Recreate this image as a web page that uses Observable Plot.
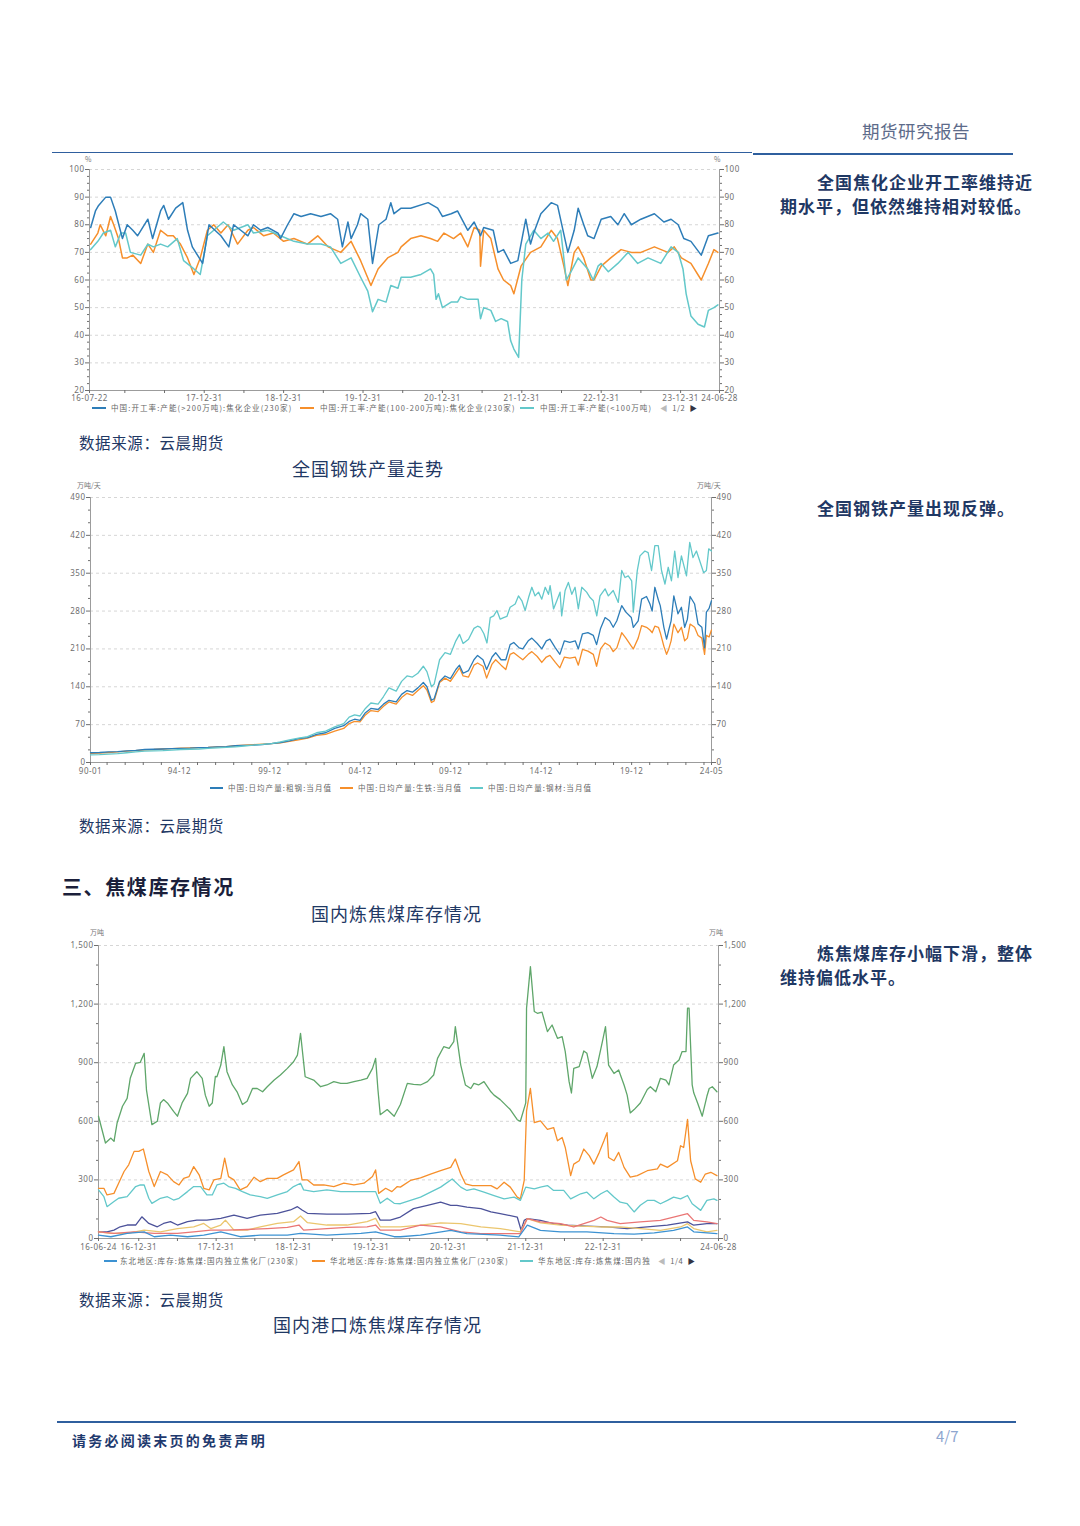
<!DOCTYPE html>
<html><head><meta charset="utf-8">
<script src="https://cdn.jsdelivr.net/npm/d3@7"></script>
<script src="https://cdn.jsdelivr.net/npm/@observablehq/plot@0.6"></script>
<style>
body{margin:0;background:#fff;}
#page{position:relative;width:1080px;height:1526px;overflow:hidden;font-family:"Noto Sans CJK SC","Noto Sans",sans-serif;}
.abs{position:absolute;white-space:nowrap;line-height:1;}
.side{font-size:17px;letter-spacing:1px;color:#1f3864;font-weight:700;}
.src{font-size:15.5px;letter-spacing:0.6px;color:#1f3864;}
.ttl{font-size:18px;letter-spacing:1px;color:#1f3864;}
.unit{font-size:7px;color:#777;}
.lg{font-size:7.5px;color:#666;letter-spacing:1.1px;}
.sw{position:absolute;height:1.6px;}
.chart{position:absolute;}
</style></head>
<body><div id="page">
<div class="abs" style="left:862px;top:122px;font-size:17.5px;color:#5d6b8a;letter-spacing:0.5px;">期货研究报告</div>
<div style="position:absolute;left:52px;top:152px;width:700px;height:1.4px;background:#2f5f9e"></div>
<div style="position:absolute;left:753px;top:153px;width:260px;height:2px;background:#2f5f9e"></div>

<div class="abs side" style="left:817px;top:173px;">全国焦化企业开工率维持近</div>
<div class="abs side" style="left:780px;top:197px;">期水平，但依然维持相对较低。</div>
<div class="abs side" style="left:817px;top:499px;">全国钢铁产量出现反弹。</div>
<div class="abs side" style="left:817px;top:944px;">炼焦煤库存小幅下滑，整体</div>
<div class="abs side" style="left:780px;top:968px;">维持偏低水平。</div>

<div class="abs unit" style="left:85px;top:156px;">%</div>
<div class="abs unit" style="left:714px;top:156px;">%</div>
<div class="abs unit" style="left:77px;top:482px;">万吨/天</div>
<div class="abs unit" style="left:697px;top:482px;">万吨/天</div>
<div class="abs unit" style="left:90px;top:929px;">万吨</div>
<div class="abs unit" style="left:709px;top:929px;">万吨</div>

<div id="c1" class="chart" style="left:50px;top:150px;"></div>
<div id="c2" class="chart" style="left:50px;top:480px;"></div>
<div id="c3" class="chart" style="left:50px;top:925px;"></div>

<div id="lg1"></div><div id="lg2"></div><div id="lg3"></div>

<div class="abs src" style="left:79px;top:435px;">数据来源：云晨期货</div>
<div class="abs ttl" style="left:292px;top:459px;">全国钢铁产量走势</div>
<div class="abs src" style="left:79px;top:818px;">数据来源：云晨期货</div>
<div class="abs" style="left:62px;top:877px;font-size:20px;letter-spacing:1.6px;color:#1b1f3b;font-weight:600;">三、焦煤库存情况</div>
<div class="abs ttl" style="left:311px;top:904px;">国内炼焦煤库存情况</div>
<div class="abs src" style="left:79px;top:1292px;">数据来源：云晨期货</div>
<div class="abs ttl" style="left:273px;top:1315px;">国内港口炼焦煤库存情况</div>

<div style="position:absolute;left:57px;top:1421px;width:959px;height:1.5px;background:#2f5f9e"></div>
<div class="abs" style="left:72px;top:1433px;font-size:14px;font-weight:700;letter-spacing:2.25px;color:#1f3a6e;">请务必阅读末页的免责声明</div>
<div class="abs" style="left:936px;top:1428px;font-size:15px;color:#8ea6cf;">4/7</div>
</div>
<script>
// ---------- Chart 1: coking plant operating rates (%) ----------
const rateLabels = ["中国:开工率:产能(>200万吨):焦化企业(230家)","中国:开工率:产能(100-200万吨):焦化企业(230家)","中国:开工率:产能(<100万吨)"];
const rateXTicks = [2016.555,2018,2019,2020,2021,2022,2023,2024,2024.49];
const rateXLabels = ["16-07-22","17-12-31","18-12-31","19-12-31","20-12-31","21-12-31","22-12-31","23-12-31","24-06-28"];
const rateXMinor = [2017,2017.5,2018.5,2019.5,2020.5,2021.5,2022.5,2023.5];
const rateYTicks = [20,30,40,50,60,70,80,90,100];
const rateLarge = [[2016.57,79],[2016.63,85],[2016.67,87],[2016.76,90],[2016.82,90],[2016.88,85],[2016.97,75],[2017.03,80],[2017.10,78],[2017.16,76],[2017.29,82],[2017.35,75],[2017.45,85],[2017.49,87],[2017.55,82],[2017.64,86],[2017.73,88],[2017.79,78],[2017.85,72],[2017.98,66],[2018.06,80],[2018.21,76],[2018.31,72],[2018.37,80],[2018.46,78],[2018.55,76],[2018.62,80],[2018.71,78],[2018.80,79],[2018.93,77],[2018.96,75],[2019.05,80],[2019.13,84],[2019.22,83],[2019.34,84],[2019.47,83],[2019.59,84],[2019.68,82],[2019.74,72],[2019.81,81],[2019.85,75],[2019.93,80],[2019.97,84],[2020.06,82],[2020.12,66],[2020.20,80],[2020.29,82],[2020.35,88],[2020.39,84],[2020.48,86],[2020.60,86],[2020.82,88],[2020.94,86],[2021.00,83],[2021.11,84],[2021.19,85],[2021.32,78],[2021.40,81],[2021.48,76],[2021.52,79],[2021.64,78],[2021.70,70],[2021.77,71],[2021.86,66],[2021.95,67],[2022.05,82],[2022.11,73],[2022.15,77],[2022.24,84],[2022.37,88],[2022.45,87],[2022.58,70],[2022.66,78],[2022.71,86],[2022.78,80],[2022.83,76],[2022.91,75],[2023.00,82],[2023.12,83],[2023.21,80],[2023.29,84],[2023.38,80],[2023.50,82],[2023.67,84],[2023.79,81],[2023.88,82],[2023.97,80],[2024.04,75],[2024.13,74],[2024.26,69],[2024.35,76],[2024.47,77]];
const rateMid = [[2016.57,73],[2016.66,77],[2016.69,80],[2016.76,76],[2016.82,83],[2016.86,80],[2016.92,75],[2016.97,68],[2017.03,68],[2017.10,69],[2017.20,66],[2017.29,73],[2017.36,70],[2017.45,78],[2017.54,76],[2017.61,76],[2017.70,73],[2017.79,68],[2017.87,62],[2017.95,68],[2018.04,78],[2018.12,80],[2018.21,77],[2018.30,80],[2018.42,73],[2018.55,78],[2018.62,79],[2018.75,76],[2018.87,77],[2019.00,74],[2019.13,75],[2019.30,73],[2019.43,76],[2019.56,72],[2019.72,70],[2019.85,74],[2019.97,67],[2020.10,58],[2020.19,64],[2020.31,68],[2020.44,70],[2020.48,72],[2020.60,75],[2020.73,76],[2020.85,75],[2020.94,74],[2021.02,77],[2021.14,75],[2021.23,77],[2021.32,72],[2021.40,79],[2021.47,78],[2021.48,65],[2021.52,78],[2021.61,75],[2021.70,64],[2021.77,60],[2021.86,58],[2021.90,55],[2021.99,65],[2022.11,70],[2022.24,72],[2022.37,78],[2022.45,75],[2022.53,65],[2022.58,58],[2022.66,70],[2022.71,72],[2022.78,68],[2022.87,60],[2022.91,60],[2023.00,65],[2023.12,68],[2023.25,71],[2023.38,70],[2023.50,70],[2023.67,72],[2023.84,70],[2023.92,72],[2024.01,68],[2024.13,66],[2024.26,60],[2024.35,66],[2024.42,71],[2024.47,70]];
const rateSmall = [[2016.57,71],[2016.66,74],[2016.73,77],[2016.82,78],[2016.88,72],[2016.95,77],[2017.01,77],[2017.07,70],[2017.20,69],[2017.29,73],[2017.36,72],[2017.45,73],[2017.54,72],[2017.66,75],[2017.74,67],[2017.87,64],[2017.95,62],[2018.04,76],[2018.12,78],[2018.24,81],[2018.37,78],[2018.55,80],[2018.62,77],[2018.80,78],[2018.96,76],[2019.13,74],[2019.30,73],[2019.47,73],[2019.59,72],[2019.72,66],[2019.85,68],[2019.97,61],[2020.06,56],[2020.12,48.5],[2020.19,53],[2020.29,52],[2020.35,58],[2020.44,57],[2020.48,61],[2020.60,61],[2020.73,62],[2020.85,64],[2020.89,62],[2020.92,53],[2020.95,55],[2021.00,50],[2021.11,52],[2021.19,52],[2021.23,54],[2021.32,53],[2021.45,53],[2021.48,46],[2021.52,50],[2021.61,49],[2021.67,45],[2021.74,46],[2021.82,45],[2021.86,38],[2021.90,35],[2021.96,32],[2022.00,60],[2022.05,73],[2022.15,78],[2022.24,75],[2022.33,77],[2022.40,74],[2022.49,78],[2022.56,60],[2022.62,63],[2022.71,68],[2022.83,64],[2022.90,60],[2022.96,65],[2023.00,66],[2023.09,63],[2023.21,66],[2023.34,70],[2023.46,66],[2023.59,68],[2023.75,66],[2023.88,72],[2023.97,70],[2024.03,64],[2024.07,55],[2024.13,47],[2024.22,44],[2024.30,43],[2024.35,49],[2024.42,50],[2024.47,51]];

// ---------- Chart 2: daily output (万吨/天) ----------
const steelLabels = ["中国:日均产量:粗钢:当月值","中国:日均产量:生铁:当月值","中国:日均产量:钢材:当月值"];
const steelXTicks = [1990,1994.917,1999.917,2004.917,2009.917,2014.917,2019.917,2024.333];
const steelXLabels = ["90-01","94-12","99-12","04-12","09-12","14-12","19-12","24-05"];
const steelXMinor = [1990.917,1991.917,1992.917,1993.917,1995.917,1996.917,1997.917,1998.917,2000.917,2001.917,2002.917,2003.917,2005.917,2006.917,2007.917,2008.917,2010.917,2011.917,2012.917,2013.917,2015.917,2016.917,2017.917,2018.917,2020.917,2021.917,2022.917,2023.917];
const steelYTicks = [0,70,140,210,280,350,420,490];
const crudeSteel = [[1990.0,18],[1990.5,18.5],[1991.0,19.5],[1991.5,20],[1992.0,21.5],[1992.5,22.5],[1993.0,24],[1993.5,24.5],[1994.0,25],[1994.5,25.5],[1995.0,26],[1995.5,26.5],[1996.0,27.5],[1996.5,28],[1997.0,29],[1997.5,29.5],[1998.0,31],[1998.5,31.5],[1999.0,32],[1999.5,33],[2000.0,35],[2000.5,37],[2001.0,40],[2001.5,44],[2002.0,46],[2002.5,52],[2003.0,55],[2003.5,63],[2004.0,68],[2004.3,76],[2004.6,80],[2004.9,78],[2005.2,92],[2005.5,100],[2005.9,98],[2006.2,108],[2006.5,115],[2006.9,112],[2007.2,126],[2007.5,133],[2007.8,130],[2008.1,138],[2008.4,148],[2008.6,140],[2008.85,115],[2009.0,118],[2009.3,150],[2009.6,160],[2009.9,155],[2010.2,172],[2010.4,180],[2010.6,165],[2010.9,170],[2011.2,190],[2011.4,198],[2011.7,190],[2011.9,172],[2012.2,195],[2012.4,203],[2012.7,190],[2012.96,190],[2013.2,218],[2013.4,222],[2013.7,212],[2013.9,210],[2014.2,225],[2014.4,230],[2014.7,220],[2014.95,210],[2015.2,225],[2015.4,228],[2015.7,212],[2015.95,200],[2016.2,225],[2016.5,222],[2016.8,225],[2016.97,210],[2017.2,238],[2017.5,240],[2017.8,235],[2017.98,218],[2018.2,248],[2018.45,268],[2018.7,262],[2018.9,250],[2019.1,262],[2019.37,290],[2019.6,278],[2019.9,268],[2020.01,250],[2020.28,262],[2020.47,302],[2020.74,307],[2020.93,293],[2021.05,280],[2021.2,324],[2021.4,300],[2021.5,290],[2021.7,250],[2021.85,228],[2021.97,245],[2022.1,262],[2022.25,308],[2022.48,275],[2022.67,287],[2022.85,250],[2023.0,265],[2023.15,307],[2023.4,293],[2023.59,256],[2023.8,250],[2023.95,212],[2024.05,278],[2024.2,285],[2024.33,299]];
const pigIron = [[1990.0,17],[1990.5,17.5],[1991.0,18.5],[1991.5,19.5],[1992.0,21],[1992.5,22],[1993.0,23.5],[1993.5,24],[1994.0,25],[1994.5,25.5],[1995.0,26.5],[1995.5,27],[1996.0,27.5],[1996.5,28],[1997.0,29],[1997.5,29.5],[1998.0,31],[1998.5,32],[1999.0,33],[1999.5,34],[2000.0,35],[2000.5,36.5],[2001.0,39],[2001.5,42],[2002.0,45],[2002.5,50],[2003.0,52],[2003.5,58],[2004.0,63],[2004.3,72],[2004.6,76],[2004.9,75],[2005.2,88],[2005.5,96],[2005.9,94],[2006.2,104],[2006.5,112],[2006.9,108],[2007.2,120],[2007.5,128],[2007.8,124],[2008.1,133],[2008.4,142],[2008.6,134],[2008.85,111],[2009.0,114],[2009.3,148],[2009.6,156],[2009.9,150],[2010.2,165],[2010.4,175],[2010.6,160],[2010.9,158],[2011.2,180],[2011.4,184],[2011.7,178],[2011.9,156],[2012.2,182],[2012.4,190],[2012.7,180],[2012.96,172],[2013.2,200],[2013.4,203],[2013.7,195],[2013.9,190],[2014.2,200],[2014.4,205],[2014.7,196],[2014.95,185],[2015.2,195],[2015.4,198],[2015.7,185],[2015.95,175],[2016.2,195],[2016.5,193],[2016.8,195],[2016.97,180],[2017.2,209],[2017.5,206],[2017.8,200],[2017.98,178],[2018.2,210],[2018.45,221],[2018.7,216],[2018.9,205],[2019.1,212],[2019.37,240],[2019.6,230],[2019.9,215],[2020.01,210],[2020.28,230],[2020.47,253],[2020.74,250],[2020.93,245],[2021.05,240],[2021.2,252],[2021.4,250],[2021.5,240],[2021.7,215],[2021.85,200],[2021.97,210],[2022.1,225],[2022.25,256],[2022.48,240],[2022.67,250],[2022.85,225],[2023.0,230],[2023.15,256],[2023.4,250],[2023.59,235],[2023.8,230],[2023.95,200],[2024.05,235],[2024.2,232],[2024.33,245]];
const steelProducts = [[1990.0,14],[1990.5,14.5],[1991.0,15.5],[1991.5,16.5],[1992.0,18],[1992.5,19.5],[1993.0,21],[1993.5,21.5],[1994.0,22],[1994.5,23],[1995.0,24],[1995.5,24.5],[1996.0,25],[1996.5,26],[1997.0,27],[1997.5,28],[1998.0,29],[1998.5,30.5],[1999.0,32],[1999.5,33.5],[2000.0,35],[2000.5,38],[2001.0,42],[2001.5,45],[2002.0,48],[2002.5,55],[2003.0,58],[2003.5,66],[2004.0,72],[2004.3,84],[2004.6,88],[2004.9,86],[2005.2,100],[2005.5,110],[2005.9,108],[2006.2,122],[2006.5,138],[2006.9,132],[2007.2,150],[2007.5,160],[2007.8,158],[2008.1,165],[2008.4,178],[2008.6,168],[2008.85,140],[2009.0,145],[2009.3,190],[2009.6,203],[2009.9,200],[2010.2,225],[2010.4,237],[2010.6,220],[2010.9,228],[2011.2,248],[2011.4,252],[2011.55,250],[2011.75,238],[2011.92,221],[2012.1,268],[2012.29,271],[2012.47,281],[2012.65,265],[2012.84,268],[2013.02,270],[2013.2,287],[2013.48,293],[2013.66,308],[2013.85,299],[2014.03,281],[2014.22,305],[2014.4,324],[2014.58,308],[2014.77,315],[2014.95,302],[2015.14,324],[2015.32,311],[2015.41,327],[2015.6,284],[2015.78,299],[2015.96,315],[2016.05,271],[2016.24,318],[2016.42,333],[2016.61,311],[2016.79,324],[2016.97,284],[2017.16,324],[2017.43,315],[2017.62,305],[2017.8,299],[2017.99,271],[2018.17,308],[2018.45,321],[2018.63,308],[2018.9,318],[2019.18,296],[2019.37,355],[2019.55,342],[2019.73,345],[2019.92,336],[2020.01,278],[2020.23,355],[2020.38,382],[2020.65,391],[2020.83,388],[2021.02,355],[2021.2,401],[2021.39,401],[2021.57,355],[2021.76,330],[2021.94,361],[2022.12,336],[2022.3,391],[2022.48,342],[2022.67,382],[2022.95,345],[2023.13,407],[2023.31,379],[2023.5,391],[2023.68,373],[2023.9,351],[2024.05,355],[2024.18,395],[2024.33,391]];

// ---------- Chart 3: coking coal inventories (万吨) ----------
const invLabels = ["东北地区:库存:炼焦煤:国内独立焦化厂(230家)","华北地区:库存:炼焦煤:国内独立焦化厂(230家)","华东地区:库存:炼焦煤:国内独"];
const invXTicks = [2016.48,2017,2018,2019,2020,2021,2022,2023,2024.49];
const invXLabels = ["16-06-24","16-12-31","17-12-31","18-12-31","19-12-31","20-12-31","21-12-31","22-12-31","24-06-28"];
const invXMinor = [2017.5,2018.5,2019.5,2020.5,2021.5,2022.5,2023.5,2024];
const invYTicks = [0,300,600,900,1200,1500];
const invTotal = [[2016.48,626],[2016.57,489],[2016.64,514],[2016.68,497],[2016.72,591],[2016.79,677],[2016.85,717],[2016.89,820],[2016.96,897],[2017.02,902],[2017.07,948],[2017.10,760],[2017.17,583],[2017.24,600],[2017.28,694],[2017.32,711],[2017.37,694],[2017.45,651],[2017.50,626],[2017.56,694],[2017.63,743],[2017.67,820],[2017.75,854],[2017.82,820],[2017.86,734],[2017.91,677],[2017.95,694],[2017.97,763],[2017.99,830],[2018.01,828],[2018.06,888],[2018.10,982],[2018.14,854],[2018.21,786],[2018.27,751],[2018.34,686],[2018.40,703],[2018.47,768],[2018.53,768],[2018.60,751],[2018.66,777],[2018.75,811],[2018.83,837],[2018.92,871],[2019.00,905],[2019.05,939],[2019.09,1050],[2019.15,828],[2019.26,811],[2019.35,777],[2019.43,786],[2019.52,803],[2019.61,794],[2019.69,794],[2019.78,803],[2019.87,811],[2019.95,820],[2020.02,871],[2020.06,922],[2020.09,763],[2020.12,634],[2020.21,660],[2020.30,626],[2020.38,686],[2020.47,794],[2020.55,789],[2020.64,786],[2020.73,803],[2020.81,837],[2020.86,922],[2020.94,982],[2021.01,973],[2021.07,1008],[2021.09,1085],[2021.16,888],[2021.22,786],[2021.29,768],[2021.33,794],[2021.39,786],[2021.46,803],[2021.55,751],[2021.59,734],[2021.67,711],[2021.80,660],[2021.89,608],[2021.93,600],[2022.00,694],[2022.01,1179],[2022.06,1392],[2022.11,1162],[2022.15,1153],[2022.21,1159],[2022.28,1059],[2022.34,1093],[2022.41,1025],[2022.47,1033],[2022.51,957],[2022.56,803],[2022.59,745],[2022.62,871],[2022.69,880],[2022.75,960],[2022.79,948],[2022.86,820],[2022.92,880],[2022.99,1008],[2023.03,1085],[2023.07,888],[2023.14,845],[2023.20,863],[2023.27,786],[2023.31,734],[2023.35,643],[2023.40,660],[2023.48,694],[2023.57,763],[2023.61,777],[2023.68,751],[2023.74,820],[2023.81,811],[2023.85,786],[2023.91,888],[2023.98,914],[2024.02,957],[2024.07,957],[2024.09,1179],[2024.11,1179],[2024.15,786],[2024.17,746],[2024.22,694],[2024.28,626],[2024.34,728],[2024.37,768],[2024.41,777],[2024.47,751]];
const invNorth = [[2016.48,257],[2016.55,257],[2016.59,223],[2016.68,231],[2016.74,283],[2016.81,343],[2016.87,377],[2016.94,446],[2017.00,446],[2017.06,458],[2017.13,343],[2017.20,266],[2017.28,343],[2017.37,326],[2017.45,291],[2017.52,274],[2017.58,308],[2017.65,317],[2017.71,368],[2017.78,326],[2017.84,257],[2017.91,249],[2017.97,300],[2018.06,308],[2018.11,411],[2018.16,317],[2018.23,300],[2018.31,249],[2018.40,266],[2018.49,314],[2018.57,291],[2018.66,308],[2018.79,308],[2018.87,326],[2019.00,351],[2019.07,394],[2019.11,300],[2019.18,300],[2019.26,274],[2019.39,274],[2019.52,266],[2019.65,283],[2019.78,274],[2019.91,283],[2020.02,317],[2020.06,351],[2020.10,231],[2020.19,257],[2020.27,240],[2020.34,266],[2020.38,263],[2020.51,297],[2020.64,310],[2020.77,330],[2020.90,347],[2021.03,364],[2021.09,407],[2021.16,330],[2021.22,280],[2021.31,271],[2021.42,271],[2021.55,271],[2021.63,254],[2021.72,288],[2021.80,263],[2021.89,212],[2021.93,203],[2021.98,297],[2022.01,653],[2022.06,768],[2022.11,593],[2022.19,602],[2022.28,559],[2022.36,568],[2022.41,500],[2022.47,517],[2022.51,466],[2022.58,322],[2022.62,381],[2022.69,398],[2022.75,458],[2022.82,424],[2022.88,381],[2022.95,441],[2023.01,500],[2023.05,542],[2023.07,415],[2023.14,398],[2023.20,441],[2023.27,364],[2023.35,314],[2023.44,322],[2023.57,347],[2023.70,356],[2023.74,381],[2023.83,364],[2023.96,398],[2024.00,475],[2024.04,466],[2024.09,610],[2024.13,398],[2024.19,305],[2024.26,288],[2024.32,330],[2024.39,339],[2024.47,322]];
const invEast = [[2016.48,249],[2016.55,214],[2016.59,163],[2016.68,189],[2016.74,206],[2016.85,214],[2016.96,266],[2017.02,274],[2017.07,274],[2017.13,206],[2017.17,180],[2017.28,206],[2017.37,214],[2017.45,197],[2017.52,206],[2017.63,240],[2017.71,266],[2017.80,266],[2017.88,223],[2017.95,223],[2018.01,274],[2018.10,283],[2018.16,266],[2018.25,257],[2018.34,240],[2018.44,223],[2018.57,214],[2018.66,206],[2018.79,223],[2018.92,240],[2019.00,266],[2019.09,283],[2019.13,249],[2019.26,240],[2019.43,249],[2019.61,240],[2019.78,240],[2019.95,240],[2020.06,240],[2020.12,180],[2020.21,206],[2020.30,180],[2020.38,178],[2020.51,195],[2020.64,212],[2020.77,237],[2020.90,263],[2021.05,305],[2021.16,263],[2021.24,246],[2021.33,254],[2021.46,237],[2021.59,220],[2021.72,203],[2021.85,212],[2021.93,195],[2022.00,263],[2022.11,254],[2022.19,263],[2022.28,271],[2022.36,246],[2022.49,246],[2022.58,203],[2022.71,229],[2022.79,237],[2022.88,203],[2022.97,229],[2023.05,246],[2023.14,212],[2023.22,186],[2023.31,178],[2023.40,136],[2023.48,170],[2023.57,195],[2023.66,195],[2023.74,178],[2023.83,195],[2023.91,212],[2024.00,203],[2024.09,220],[2024.15,178],[2024.26,144],[2024.34,195],[2024.43,203],[2024.47,195]];
const invCentral = [[2016.48,34],[2016.59,34],[2016.68,43],[2016.76,60],[2016.85,69],[2016.96,69],[2017.04,111],[2017.13,77],[2017.24,60],[2017.32,77],[2017.41,86],[2017.50,69],[2017.63,86],[2017.75,94],[2017.88,94],[2018.06,103],[2018.23,120],[2018.40,103],[2018.57,120],[2018.79,129],[2018.96,146],[2019.05,163],[2019.11,146],[2019.18,129],[2019.43,125],[2019.69,125],[2019.99,129],[2020.06,137],[2020.12,94],[2020.25,94],[2020.38,110],[2020.55,153],[2020.73,170],[2020.90,186],[2021.03,170],[2021.11,170],[2021.24,161],[2021.42,153],[2021.55,136],[2021.67,127],[2021.89,110],[2021.94,42],[2021.98,93],[2022.02,102],[2022.19,93],[2022.36,76],[2022.54,68],[2022.79,63],[2023.05,59],[2023.31,51],[2023.57,59],[2023.83,68],[2024.09,85],[2024.17,68],[2024.34,76],[2024.47,76]];
const invNorthwest = [[2016.48,34],[2016.64,26],[2016.85,26],[2017.07,43],[2017.28,34],[2017.50,51],[2017.71,60],[2017.84,77],[2017.93,51],[2018.06,69],[2018.12,94],[2018.23,43],[2018.40,43],[2018.57,60],[2018.79,77],[2019.00,86],[2019.09,115],[2019.18,81],[2019.43,69],[2019.69,69],[2019.95,86],[2020.06,103],[2020.12,60],[2020.38,60],[2020.64,68],[2020.90,80],[2021.16,76],[2021.42,59],[2021.67,51],[2021.93,34],[2022.02,102],[2022.19,80],[2022.45,68],[2022.71,63],[2022.97,59],[2023.22,59],[2023.48,51],[2023.74,42],[2024.00,59],[2024.09,76],[2024.17,51],[2024.34,34],[2024.47,42]];
const invSouthwest = [[2016.48,34],[2016.68,26],[2016.94,34],[2017.20,26],[2017.50,26],[2017.71,34],[2017.93,43],[2018.14,43],[2018.40,46],[2018.66,51],[2018.92,57],[2019.07,69],[2019.13,43],[2019.43,51],[2019.69,57],[2019.95,60],[2020.06,69],[2020.12,43],[2020.38,43],[2020.64,68],[2020.90,59],[2021.16,34],[2021.42,25],[2021.67,25],[2021.93,25],[2022.02,102],[2022.19,85],[2022.45,76],[2022.62,59],[2022.88,93],[2022.97,110],[2023.05,93],[2023.22,76],[2023.48,85],[2023.74,93],[2023.91,110],[2024.09,127],[2024.17,93],[2024.34,85],[2024.47,76]];
const invNortheast = [[2016.48,17],[2016.64,9],[2016.85,26],[2017.07,34],[2017.20,9],[2017.41,17],[2017.63,9],[2017.84,17],[2018.06,34],[2018.31,9],[2018.57,17],[2018.92,17],[2019.09,26],[2019.43,17],[2019.87,26],[2020.06,34],[2020.30,9],[2020.38,9],[2020.64,17],[2021.03,42],[2021.24,25],[2021.67,17],[2021.91,8],[2022.02,68],[2022.19,42],[2022.45,34],[2022.79,34],[2023.14,25],[2023.40,22],[2023.66,29],[2023.91,42],[2024.09,59],[2024.17,34],[2024.47,25]];

const COL = {blue:"#2d7db8", orange:"#f68f2b", cyan:"#63c8ca", navy:"#4c529a", yellow:"#ebc66e", red:"#ea7675", green:"#5fa66a", nblue:"#3c92d2"};

function chart(cfg){
  const lab = new Map(cfg.xt.map((t,i)=>[t,cfg.xl[i]]));
  const ax = {color:"#6e6e6e", fontSize:8, label:null};
  const [y0] = cfg.yd;
  return Plot.plot({
    width:cfg.w, height:cfg.h, marginLeft:cfg.ml, marginRight:cfg.mr, marginTop:cfg.mt, marginBottom:cfg.mb,
    x:{type:"linear", domain:cfg.xd, axis:null},
    y:{type:"linear", domain:cfg.yd, axis:null},
    style:{fontFamily:"'Noto Sans','DejaVu Sans',sans-serif", fontSize:"8px", letterSpacing:"0.5px", color:"#666", background:"transparent", overflow:"visible"},
    marks:[
      Plot.gridY(cfg.yt.filter(t=>t!==y0), {stroke:"#d6d6d6", strokeOpacity:1, strokeDasharray:"3,3"}),
      Plot.ruleY([y0], {stroke:"#9c9c9c"}),
      Plot.ruleX([cfg.xd[0]], {stroke:"#9c9c9c"}),
      Plot.ruleX([cfg.xd[1]], {stroke:"#9c9c9c"}),
      Plot.axisY(cfg.yt, {anchor:"left", tickSize:4, tickPadding:1, tickFormat:cfg.yf, ...ax}),
      Plot.axisY(cfg.ym, {anchor:"left", tickSize:2, tickFormat:()=>"", ...ax}),
      Plot.axisY(cfg.yt, {anchor:"right", tickSize:4, tickPadding:1, tickFormat:cfg.yf, ...ax}),
      Plot.axisY(cfg.ym, {anchor:"right", tickSize:2, tickFormat:()=>"", ...ax}),
      Plot.axisX(cfg.xt, {tickSize:3, tickPadding:cfg.xp, tickFormat:d=>lab.get(d), ...ax}),
      Plot.axisX(cfg.xm, {tickSize:3, tickFormat:()=>"", ...ax}),
      ...cfg.series.map(s=>Plot.line(s.data, {x:d=>d[0], y:d=>d[1], stroke:s.color, strokeWidth:cfg.sw}))
    ]
  });
}

const minorY = (ticks, step) => { const out=[]; for(let i=0;i<ticks.length-1;i++){ for(let v=ticks[i]+step; v<ticks[i+1]-1e-6; v+=step) out.push(v);} return out; };

document.getElementById("c1").appendChild(chart({
  w:700,h:260,ml:39,mr:31,mt:19,mb:20,xp:2,
  xd:[2016.555,2024.49], yd:[20,100],
  xt:rateXTicks, xl:rateXLabels, xm:rateXMinor, yt:rateYTicks, ym:minorY(rateYTicks,2.5), yf:d=>String(d),
  sw:1.5,
  series:[{data:rateMid,color:COL.orange},{data:rateSmall,color:COL.cyan},{data:rateLarge,color:COL.blue}]
}));
document.getElementById("c2").appendChild(chart({
  w:700,h:295,ml:40,mr:39,mt:17,mb:13,xp:3,
  xd:[1990,2024.333], yd:[0,490],
  xt:steelXTicks, xl:steelXLabels, xm:steelXMinor, yt:steelYTicks, ym:minorY(steelYTicks,70/3), yf:d=>String(d),
  sw:1.3,
  series:[{data:pigIron,color:COL.orange},{data:crudeSteel,color:COL.blue},{data:steelProducts,color:COL.cyan}]
}));
document.getElementById("c3").appendChild(chart({
  w:700,h:325,ml:48,mr:32,mt:20,mb:12,xp:3,
  xd:[2016.48,2024.49], yd:[0,1500],
  xt:invXTicks, xl:invXLabels, xm:invXMinor, yt:invYTicks, ym:minorY(invYTicks,100), yf:d3.format(","),
  sw:1.3,
  series:[{data:invTotal,color:COL.green},{data:invNorth,color:COL.orange},{data:invEast,color:COL.cyan},{data:invCentral,color:COL.navy},{data:invNorthwest,color:COL.yellow},{data:invSouthwest,color:COL.red},{data:invNortheast,color:COL.nblue}]
}));

// legends
function legend(id, cy, items, pager){
  const host = document.getElementById(id);
  let html = "";
  items.forEach(it=>{
    html += `<div class="sw" style="left:${it.sl}px;top:${cy-0.8}px;width:${it.sw}px;background:${it.c}"></div>`;
    html += `<div class="abs lg" style="left:${it.tl}px;top:${cy-4}px;">${it.t}</div>`;
  });
  if(pager){
    html += `<div class="abs lg" style="left:${pager.x}px;top:${cy-4}px;letter-spacing:0.5px;"><span style="color:#bbb">◀</span>&nbsp;&nbsp;${pager.t}&nbsp;&nbsp;<span style="color:#334">▶</span></div>`;
  }
  host.innerHTML = html;
}
legend("lg1", 408, [
  {sl:92,sw:14,tl:111,t:rateLabels[0],c:COL.blue},
  {sl:300,sw:14,tl:320,t:rateLabels[1],c:COL.orange},
  {sl:520,sw:14,tl:540,t:rateLabels[2],c:COL.cyan}
], {x:660,t:"1/2"});
legend("lg2", 788, [
  {sl:210,sw:13,tl:228,t:steelLabels[0],c:COL.blue},
  {sl:340,sw:13,tl:358,t:steelLabels[1],c:COL.orange},
  {sl:470,sw:13,tl:488,t:steelLabels[2],c:COL.cyan}
]);
legend("lg3", 1261, [
  {sl:104,sw:13,tl:120,t:invLabels[0],c:COL.nblue},
  {sl:312,sw:13,tl:330,t:invLabels[1],c:COL.orange},
  {sl:520,sw:13,tl:538,t:invLabels[2],c:COL.cyan}
], {x:658,t:"1/4"});
</script>
</body></html>
